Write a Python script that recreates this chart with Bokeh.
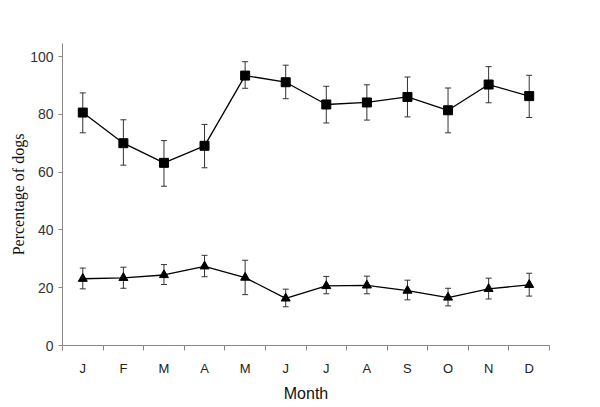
from bokeh.plotting import figure
from bokeh.models import ColumnDataSource, Whisker, TeeHead, FixedTicker, Range1d
from bokeh.embed import file_html
from bokeh.resources import INLINE

months = ["J", "F", "M", "A", "M", "J", "J", "A", "S", "O", "N", "D"]
upper_mean = [80.6, 70.0, 63.2, 69.1, 93.4, 91.1, 83.4, 84.1, 86.0, 81.4, 90.3, 86.3]
upper_hi = [87.4, 78.1, 70.9, 76.5, 98.2, 97.0, 89.7, 90.2, 92.9, 89.1, 96.5, 93.5]
upper_lo = [73.6, 62.4, 55.1, 61.5, 89.0, 85.4, 77.0, 78.0, 79.1, 73.6, 84.0, 78.9]
lower_mean = [23.1, 23.4, 24.4, 27.4, 23.5, 16.3, 20.6, 20.8, 19.0, 16.6, 19.6, 21.0]
lower_hi = [26.8, 27.1, 28.0, 31.2, 29.5, 19.5, 23.9, 24.0, 22.6, 19.8, 23.3, 25.0]
lower_lo = [19.6, 19.8, 21.1, 23.8, 17.6, 13.4, 17.9, 17.9, 15.8, 13.7, 16.1, 17.1]
y_ticks = [0, 20, 40, 60, 80, 100]

xs = [i + 0.5 for i in range(len(months))]

p = figure(width=600, height=407, output_backend="svg", toolbar_location=None,
           x_range=Range1d(0, 12), y_range=Range1d(0, 104.5),
           min_border_left=62, min_border_right=51, min_border_top=43, min_border_bottom=62)
p.outline_line_color = None
p.xgrid.visible = False
p.ygrid.visible = False
p.background_fill_color = "white"
p.border_fill_color = "white"

src_u = ColumnDataSource(dict(x=xs, y=upper_mean, hi=upper_hi, lo=upper_lo))
src_l = ColumnDataSource(dict(x=xs, y=lower_mean, hi=lower_hi, lo=lower_lo))

for src in (src_u, src_l):
    w = Whisker(source=src, base="x", upper="hi", lower="lo",
                line_color="#333333", line_width=1,
                upper_head=TeeHead(size=6, line_color="#333333", line_width=1),
                lower_head=TeeHead(size=6, line_color="#333333", line_width=1))
    p.add_layout(w)

p.line("x", "y", source=src_u, line_color="black", line_width=1.3)
p.scatter("x", "y", source=src_u, marker="square", size=9, fill_color="black", line_color="black")
p.line("x", "y", source=src_l, line_color="black", line_width=1.3)
p.scatter("x", "y", source=src_l, marker="triangle", size=9, fill_color="black", line_color="black")

# x axis
xa = p.xaxis[0]
xa.ticker = FixedTicker(ticks=xs, minor_ticks=list(range(13)))
xa.major_label_overrides = {x: m for x, m in zip(xs, months)}
xa.major_tick_out = 0
xa.major_tick_in = 0
xa.minor_tick_out = 5
xa.minor_tick_in = 0
xa.minor_tick_line_color = "#888888"
xa.axis_line_color = "#888888"
xa.major_label_text_font = "Liberation Sans"
xa.major_label_text_font_size = "13px"
xa.major_label_text_color = "#222222"
xa.major_label_standoff = 10
xa.axis_label = "Month"
xa.axis_label_text_font = "Liberation Sans"
xa.axis_label_text_font_size = "16px"
xa.axis_label_text_font_style = "normal"
xa.axis_label_text_color = "#111111"
xa.axis_label_standoff = 6

ya = p.yaxis[0]
ya.ticker = FixedTicker(ticks=y_ticks)
ya.minor_tick_line_color = None
ya.major_tick_out = 4
ya.major_tick_in = 0
ya.major_tick_line_color = "#888888"
ya.axis_line_color = "#888888"
ya.major_label_text_font = "Liberation Sans"
ya.major_label_text_font_size = "14px"
ya.major_label_text_color = "#333333"
ya.major_label_standoff = 5
ya.axis_label = "Percentage of dogs"
ya.axis_label_text_font = "Liberation Serif"
ya.axis_label_text_font_size = "16px"
ya.axis_label_text_font_style = "normal"
ya.axis_label_text_color = "#111111"
ya.axis_label_standoff = 0

open("out.html", "w").write(file_html(p, INLINE))
